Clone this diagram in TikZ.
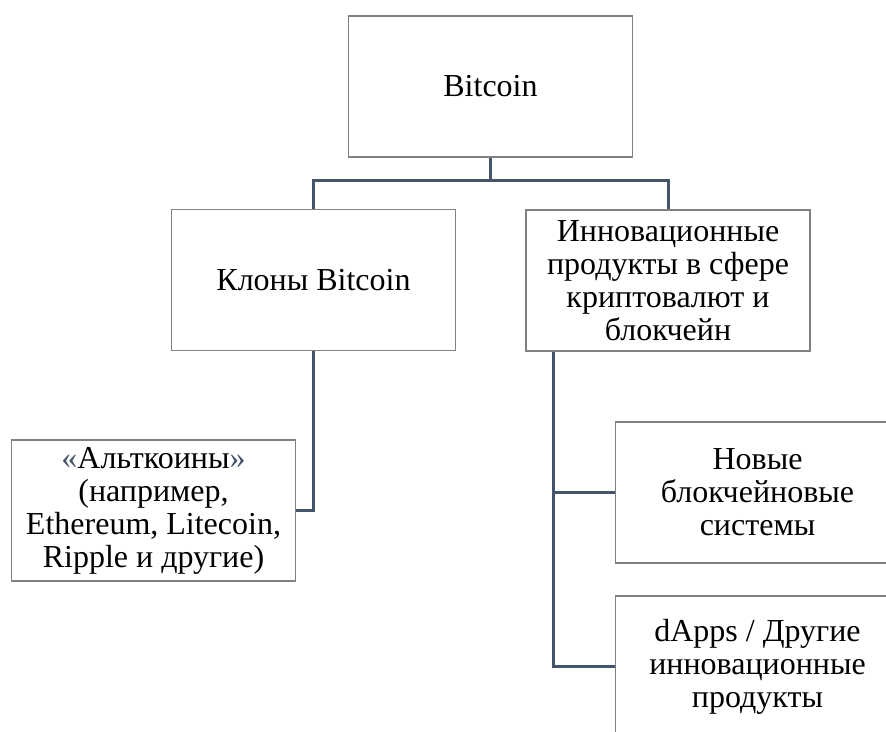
\documentclass[tikz,border=0pt]{standalone}
\usepackage{fontspec}
\setmainfont{Liberation Serif}
\usetikzlibrary{positioning}
\usetikzlibrary{calc}
\definecolor{linkcol}{HTML}{44546A}
\definecolor{boxcol}{HTML}{808080}

\begin{document}
\begin{tikzpicture}[x=1pt, y=-1pt,
        box/.style={draw=boxcol, line width=1.2pt, fill=white, minimum width=284pt,
                    minimum height=141pt, align=center, inner sep=4pt,
                    font=\fontsize{32}{33}\selectfont},
        link/.style={draw=linkcol, line width=3pt}]
    \clip (0,0) rectangle (886,731);
    % top level
    \node[box] (bitcoin) at (490.5,86.5) {Bitcoin};
    \node[box] (clones) at (313.5,280) {Клоны Bitcoin};
    \node[box] (innov) at (668,280.5) {Инновационные\\продукты в сфере\\криптовалют и\\блокчейн};
    % lower level
    \node[box] (alts) at (153.5,510.5) {{\color{linkcol}«}Альткоины{\color{linkcol}»}\\(например,\\Ethereum, Litecoin,\\Ripple и другие)};
    \node[box] (chains) at (757.5,492.5) {Новые\\блокчейновые\\системы};
    \node[box] (dapps) at (757.5,666.5) {dApps / Другие\\инновационные\\продукты};
    % connectors
    \coordinate (fork) at ($(bitcoin.south)+(0,23)$);
    \coordinate (trunk) at ([xshift=28pt]innov.south west);
    \draw[link] (bitcoin.south) -- (fork);
    \draw[link] (clones.north) |- (fork) -| (innov.north);
    \draw[link] (clones.south) |- (alts.east);
    \draw[link] (trunk) |- (chains.west);
    \draw[link] (trunk) |- (dapps.west);
\end{tikzpicture}
\end{document}
